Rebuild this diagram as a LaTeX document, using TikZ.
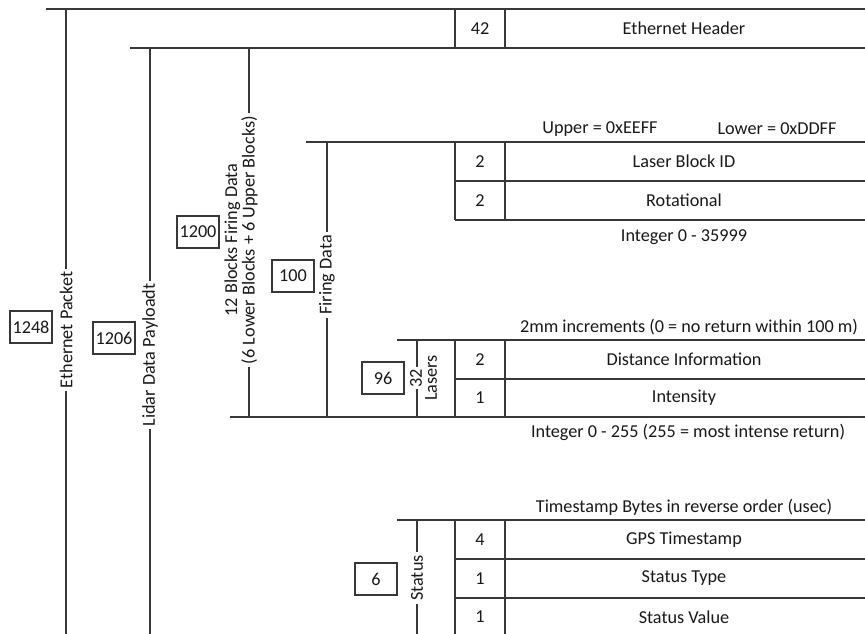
\documentclass[tikz,border=0pt]{standalone}
\usepackage{fontspec}
\setmainfont{Carlito}
\begin{document}
\begin{tikzpicture}[x=1pt,y=-1pt,
  ln/.style={draw=black!78,line width=1.3pt},
  txt/.style={font=\fontsize{18.2}{17.5}\selectfont,text=black!90,inner sep=0pt},
  vlab/.style={txt,rotate=90,fill=white,inner xsep=3pt,inner ysep=0pt,align=center},
  numbox/.style={txt,draw=black!78,line width=1.2pt,fill=white,minimum width=42pt,minimum height=32pt}]
\useasboundingbox (0,0) rectangle (865,634);
% --- frame lines ---
\draw[ln] (46,9) -- (865,9);
\draw[ln] (66,9) -- (66,634);
\draw[ln] (130,48) -- (865,48);
\draw[ln] (150,48) -- (150,634);
\draw[ln] (249,48) -- (249,417);
\draw[ln] (230,417) -- (865,417);
\draw[ln] (306,142) -- (865,142);
\draw[ln] (327,142) -- (327,417);
\draw[ln] (397,340) -- (865,340);
\draw[ln] (417,340) -- (417,417);
\draw[ln] (397,520) -- (865,520);
\draw[ln] (417,520) -- (417,634);
% --- table cells ---
\draw[ln] (455,9) -- (455,48) (505,9) -- (505,48);
\draw[ln] (455,142) -- (455,220) (505,142) -- (505,220) (455,181) -- (865,181) (455,220) -- (865,220);
\draw[ln] (455,340) -- (455,417) (505,340) -- (505,417) (455,379) -- (865,379);
\draw[ln] (455,520) -- (455,634) (505,520) -- (505,634) (455,559) -- (865,559) (455,598) -- (865,598);
% --- vertical labels ---
\node[vlab] (lEth) at (66,330) {Ethernet Packet};
\node[vlab] (lLidar) at (150,355) {Lidar Data Payloadt};
\node[vlab] (lBlocks) at (241,240) {12 Blocks Firing Data\\(6 Lower Blocks + 6 Upper Blocks)};
\node[vlab] (lFiring) at (327,275) {Firing Data};
\node[vlab,inner xsep=2pt] (l32) at (416,378) {32};
\node[vlab,fill=none] (lLasers) at (431,378) {Lasers};
\node[vlab] (lStatus) at (417,578) {Status};
% --- number boxes ---
\node[numbox] (b1248) at (31,327) {1248};
\node[numbox] (b1206) at (114,338) {1206};
\node[numbox] (b1200) at (198,232) {1200};
\node[numbox] (b100) at (293,276) {100};
\node[numbox] (b96) at (383,378) {96};
\node[numbox] (b6) at (376,579) {6};
% --- cell texts ---
\node[txt] (n42) at (480,28.5) {42};
\node[txt] (tEH) at (684,28.5) {Ethernet Header};
\node[txt] (n2a) at (480,161.5) {2};
\node[txt] (tLB) at (684,161.5) {Laser Block ID};
\node[txt] (n2b) at (480,200.5) {2};
\node[txt] (tRot) at (684,200.5) {Rotational};
\node[txt] (n2c) at (480,359.5) {2};
\node[txt] (tDist) at (684,359.5) {Distance Information};
\node[txt] (n1a) at (480,398) {1};
\node[txt] (tInt) at (684,398) {Intensity};
\node[txt] (n4) at (480,539.5) {4};
\node[txt] (tGPS) at (684,539.5) {GPS Timestamp};
\node[txt] (n1b) at (480,578.5) {1};
\node[txt] (tST) at (684,578.5) {Status Type};
\node[txt] (n1c) at (480,617) {1};
\node[txt] (tSV) at (684,617) {Status Value};
% --- annotations ---
\node[txt] (aUp) at (600,129) {Upper = 0xEEFF};
\node[txt] (aLow) at (777,129) {Lower = 0xDDFF};
\node[txt] (aRot) at (684,237) {Integer 0 - 35999};
\node[txt] (aDist) at (689,327) {2mm increments (0 = no return within 100 m)};
\node[txt] (aInt) at (688,432) {Integer 0 - 255 (255 = most intense return)};
\node[txt] (aTS) at (684,507) {Timestamp Bytes in reverse order (usec)};
\end{tikzpicture}
\end{document}
